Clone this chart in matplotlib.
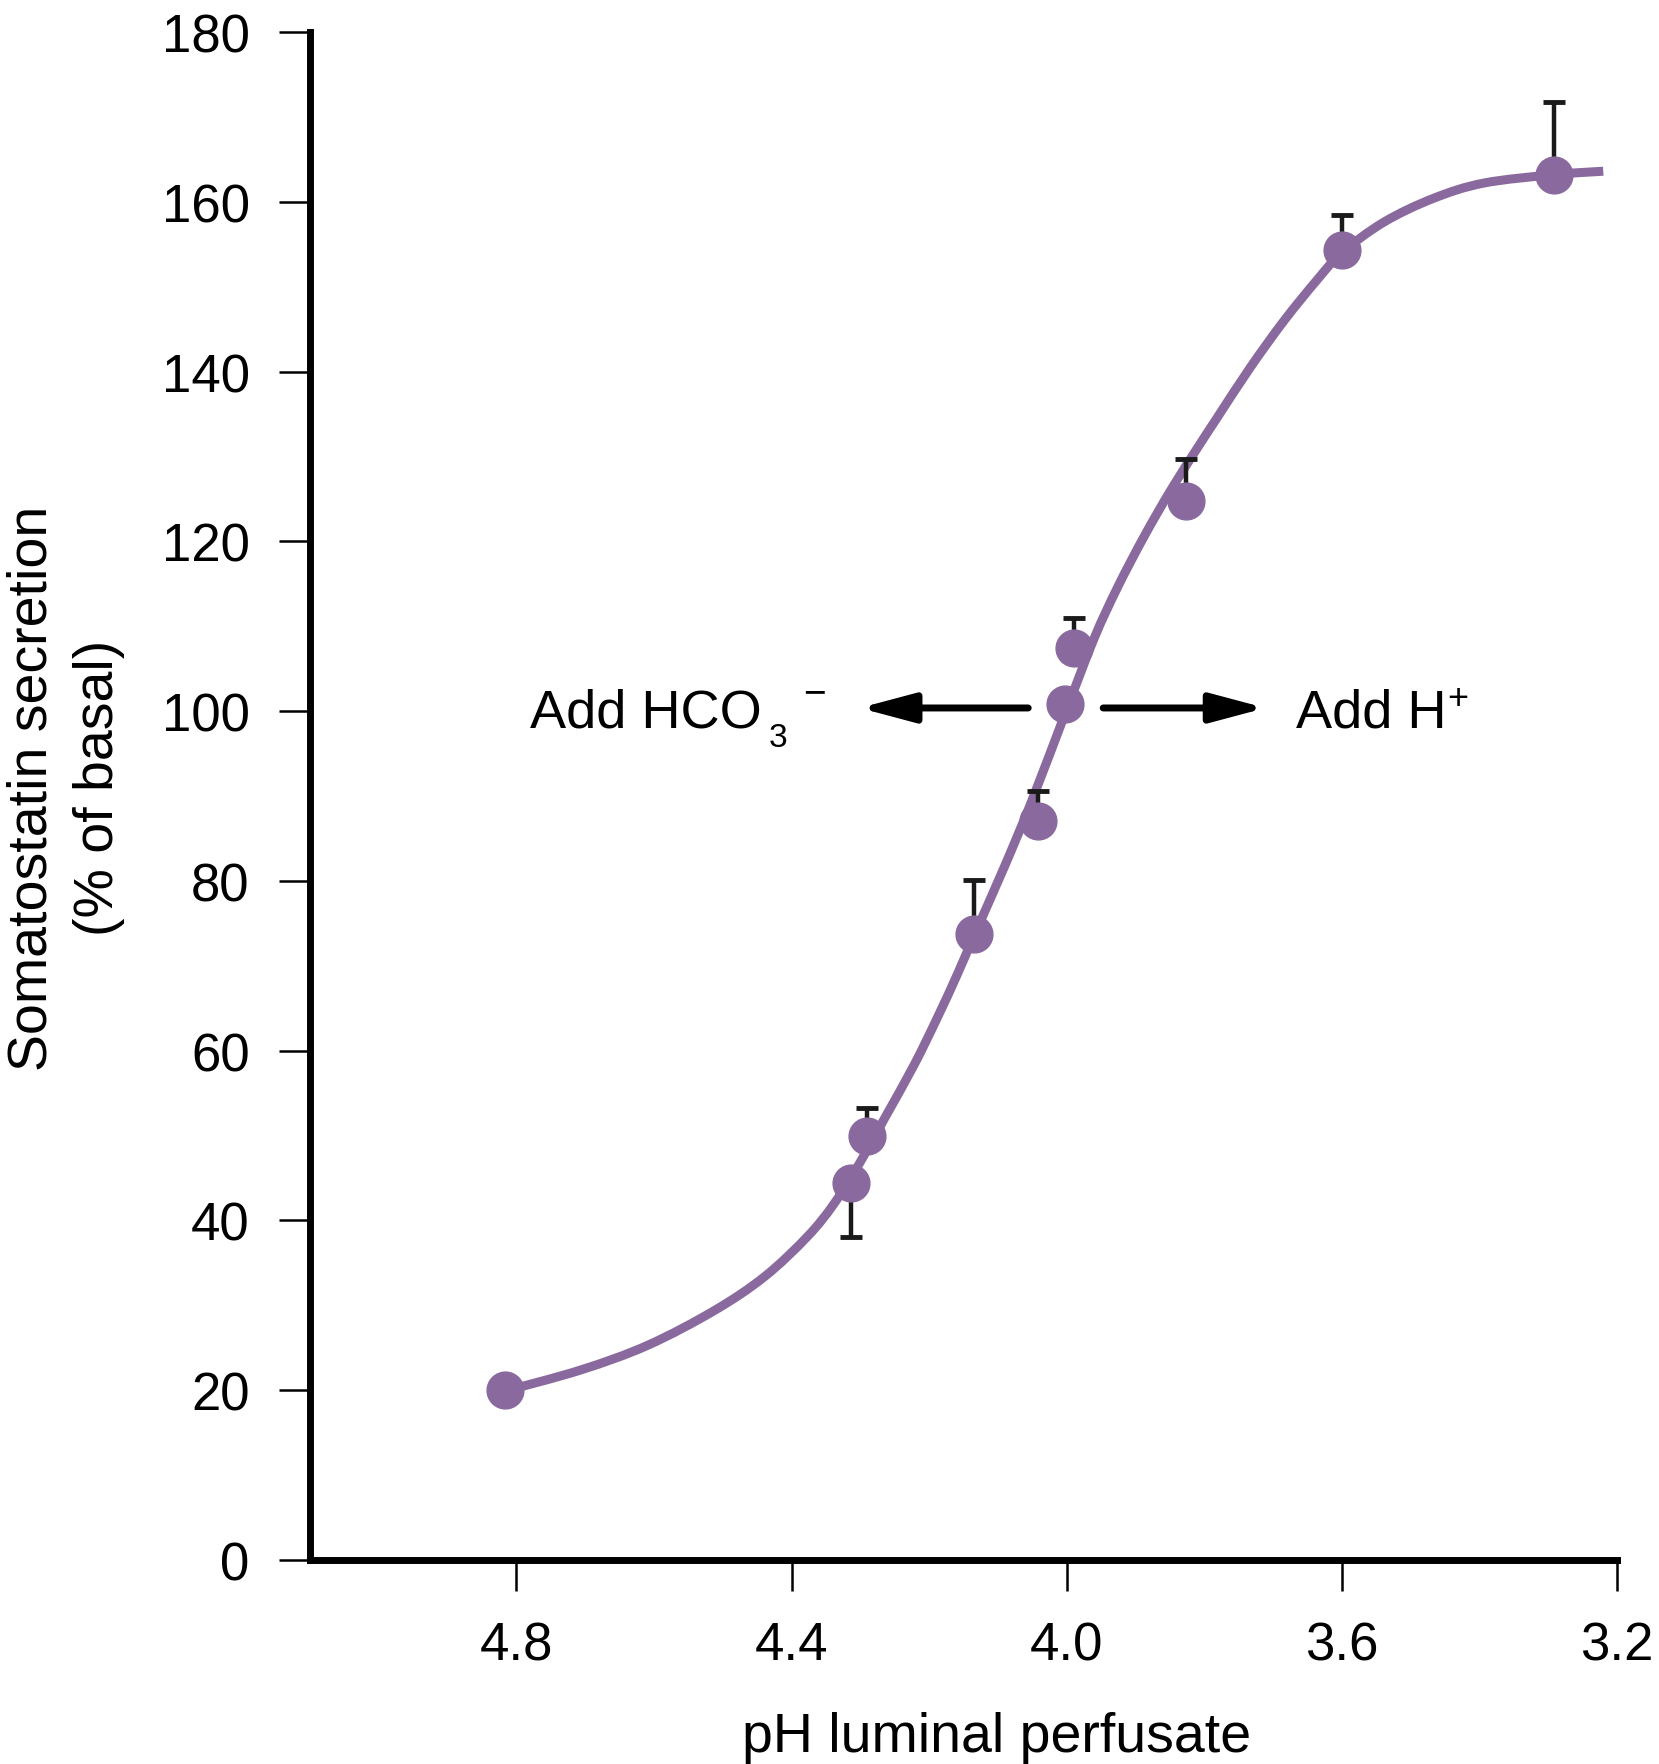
import matplotlib
matplotlib.use("Agg")
import matplotlib.pyplot as plt
from matplotlib.path import Path
from matplotlib.patches import PathPatch

# measured points (pH of luminal perfusate, somatostatin % of basal)
ph = [4.817, 4.314, 4.290, 4.135, 4.042, 3.990, 4.002, 3.827, 3.600, 3.292]
secretion = [20.0, 44.4, 50.0, 73.7, 87.0, 107.4, 100.8, 124.8, 154.3, 163.2]
err_low = [0, 6.3, 0, 0, 0, 0, 0, 0, 0, 0]
err_high = [0, 0, 3.2, 6.4, 3.6, 3.6, 0, 4.9, 4.2, 8.6]

# fitted curve
curve_ph = [4.817, 4.706, 4.609, 4.512, 4.439, 4.377, 4.338, 4.300, 4.265,
            4.222, 4.188, 4.159, 4.135, 4.091, 4.050, 4.001, 3.960, 3.926,
            3.888, 3.849, 3.810, 3.781, 3.733, 3.684, 3.636, 3.600, 3.539,
            3.467, 3.394, 3.292, 3.220]
curve_sec = [19.9, 22.4, 25.3, 29.4, 33.4, 38.1, 42.0, 46.9, 52.0,
             58.3, 63.9, 69.0, 73.5, 81.6, 89.6, 100.0, 108.6, 114.6,
             120.5, 126.0, 131.0, 134.6, 140.5, 146.0, 150.8, 154.0, 157.6,
             160.4, 162.2, 163.2, 163.6]

x_ticks = [4.8, 4.4, 4.0, 3.6, 3.2]
y_ticks = [0, 20, 40, 60, 80, 100, 120, 140, 160, 180]

PURPLE = "#8a6a9e"
INK = "#1a1a1a"
FONT = "Liberation Sans"


def smooth_path(xs, ys):
    # Catmull-Rom through the read points, drawn as cubic Bezier segments
    n = len(xs)
    verts = [(xs[0], ys[0])]
    codes = [Path.MOVETO]
    for i in range(n - 1):
        a, b = max(i - 1, 0), min(i + 2, n - 1)
        c1 = (xs[i] + (xs[i + 1] - xs[a]) / 6, ys[i] + (ys[i + 1] - ys[a]) / 6)
        c2 = (xs[i + 1] - (xs[b] - xs[i]) / 6, ys[i + 1] - (ys[b] - ys[i]) / 6)
        verts += [c1, c2, (xs[i + 1], ys[i + 1])]
        codes += [Path.CURVE4] * 3
    return Path(verts, codes)


def make_plot():
    plt.rcParams["font.family"] = [FONT, "DejaVu Sans"]

    fig = plt.figure(figsize=(16.59, 17.65), dpi=100)
    ax = fig.add_axes([0.1869, 0.11558, 0.7878, 0.86572])

    ax.add_patch(PathPatch(smooth_path(curve_ph, curve_sec), fill=False,
                           edgecolor=PURPLE, lw=6.5, capstyle="butt",
                           joinstyle="round", zorder=2))
    ax.errorbar(ph, secretion, yerr=[err_low, err_high], fmt="none", ecolor=INK,
                elinewidth=3.2, capsize=8, capthick=3.5, zorder=3)
    ax.plot(ph, secretion, "o", ms=26.5, color=PURPLE, mec=PURPLE, zorder=4)

    ax.set_xlim(5.1, 3.2)
    ax.set_ylim(0, 180)
    ax.set_xticks(x_ticks)
    ax.set_xticklabels([f"{v:.1f}" for v in x_ticks])
    ax.set_yticks(y_ticks)

    for side in ["top", "right"]:
        ax.spines[side].set_visible(False)
    for side in ["left", "bottom"]:
        ax.spines[side].set_linewidth(5)
        ax.spines[side].set_color("black")
        ax.spines[side].set_capstyle("projecting")
    ax.tick_params(direction="out", length=22, width=1.8, pad=21.5,
                   labelsize=38, colors="black")

    ax.set_xlabel("pH luminal perfusate", fontsize=40)
    ax.xaxis.label.set_va("baseline")
    ax.xaxis.set_label_coords(0.525, -0.125)

    ax.set_ylabel("Somatostatin secretion\n(% of basal)", fontsize=40,
                  linespacing=1.36, multialignment="center")
    ax.yaxis.label.set_va("center")
    ax.yaxis.set_label_coords(-0.187, 0.5059)

    # acid / base annotation
    arrow_style = "-|>,head_length=33,head_width=8.8"
    ax.annotate("", xy=(4.301, 100.37), xytext=(4.056, 100.37),
                arrowprops=dict(arrowstyle=arrow_style, mutation_scale=1, lw=5,
                                color="black", shrinkA=0, shrinkB=0))
    ax.annotate("", xy=(3.711, 100.37), xytext=(3.947, 100.37),
                arrowprops=dict(arrowstyle=arrow_style, mutation_scale=1, lw=5,
                                color="black", shrinkA=0, shrinkB=0))

    ax.text(4.780, 98.13, "Add HCO", fontsize=39, ha="left", va="baseline")
    ax.text(4.433, 95.89, "3", fontsize=24, ha="left", va="baseline")
    ax.text(4.366, 100.9, "\u2212", fontsize=28, ha="center", va="baseline")
    ax.text(3.666, 98.13, "Add H", fontsize=39, ha="left", va="baseline")
    ax.text(3.447, 100.37, "+", fontsize=26, ha="left", va="baseline")

    fig.savefig("out.png", dpi=100)


if __name__ == "__main__":
    make_plot()
